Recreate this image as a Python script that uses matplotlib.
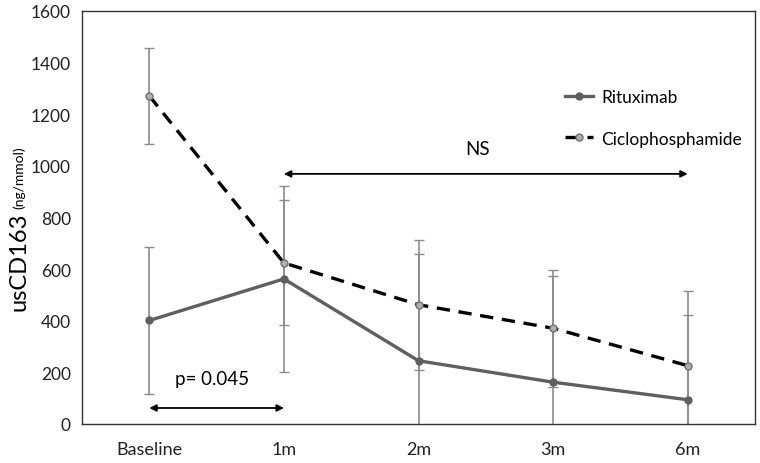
import matplotlib
matplotlib.use("Agg")
import matplotlib.pyplot as plt

plt.rcParams['font.family'] = ['Lato', 'DejaVu Sans']

categories = ['Baseline', '1m', '2m', '3m', '6m']
ritux = [401, 562, 245, 162, 94]
ritux_err = [284, 360, 413, 410, 327]
ciclo = [1271, 624, 462, 371, 226]
ciclo_err = [185, 242, 252, 227, 288]
yticks = [0, 200, 400, 600, 800, 1000, 1200, 1400, 1600]

fig = plt.figure(figsize=(7.6, 4.64), dpi=100)
ax = fig.add_axes([82/760, 1-425/464, (755-82)/760, (425-12)/464])

x = list(range(len(categories)))
ax.errorbar(x, ritux, yerr=ritux_err, fmt='none', ecolor='#8c8c8c', elinewidth=1.2, capsize=3.5, capthick=1.0, zorder=2)
ax.errorbar(x, ciclo, yerr=ciclo_err, fmt='none', ecolor='#8c8c8c', elinewidth=1.2, capsize=3.5, capthick=1.0, zorder=2)
ax.plot(x, ritux, color='#5f5f5f', lw=2.4, marker='o', ms=5, mfc='#5f5f5f', mec='#5f5f5f', label='Rituximab', zorder=3)
ax.plot(x, ciclo, color='black', lw=2.4, ls=(0, (4, 2.6)), marker='o', ms=5, mfc='#b0b0b0', mec='#707070', label='Ciclophosphamide', zorder=3)

ax.set_xlim(-0.5, 4.5)
ax.set_ylim(0, 1600)
ax.set_yticks(yticks)
ax.set_xticks(x)
ax.set_xticklabels(categories)
ax.tick_params(axis='y', length=0, labelsize=12.5, pad=8, colors='#222222')
ax.tick_params(axis='x', length=0, labelsize=13, pad=12, colors='#222222')
for s in ax.spines.values():
    s.set_linewidth(1.0)
    s.set_color('#333333')

# annotations
ax.annotate('', xy=(0, 62), xytext=(1, 62), arrowprops=dict(arrowstyle='<|-|>', color='black', lw=1.3, mutation_scale=10, shrinkA=0, shrinkB=0))
ax.text(0.47, 175, 'p= 0.045', ha='center', va='center', fontsize=13.5)
ax.annotate('', xy=(1, 969), xytext=(4, 969), arrowprops=dict(arrowstyle='<|-|>', color='black', lw=1.3, mutation_scale=10, shrinkA=0, shrinkB=0))
ax.text(2.44, 1068, 'NS', ha='center', va='center', fontsize=13.5)

ax.legend(loc='upper left', bbox_to_anchor=(0.695, 0.848), frameon=False, fontsize=12.5,
          handlelength=1.6, labelspacing=1.45, handletextpad=0.45)

fig.text(19/760, 1-262/464, 'usCD163', rotation=90, ha='center', va='center', fontsize=17)
fig.text(19/760, 1-178/464, '(ng/mmol)', rotation=90, ha='center', va='center', fontsize=10)

fig.savefig('out.png', dpi=100)
